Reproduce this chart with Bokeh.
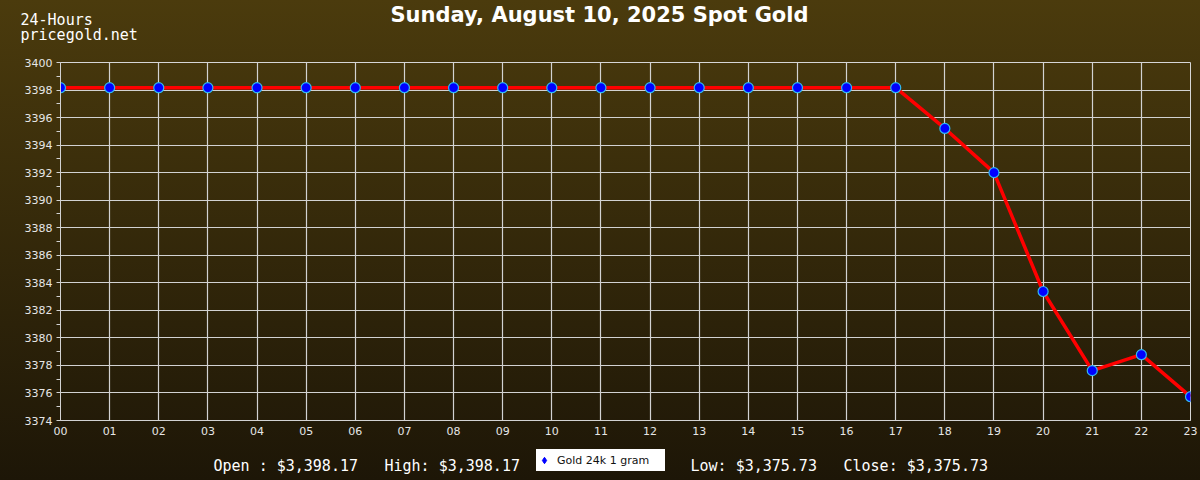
from bokeh.plotting import figure
from bokeh.layouts import column
from bokeh.models import (ColumnDataSource, Label, Legend, LegendItem,
                          FixedTicker, Range1d, Plot)
from bokeh.embed import file_html
from bokeh.resources import INLINE

# Hourly spot gold prices (USD / oz)
hours = list(range(24))
hour_labels = [f"{h:02d}" for h in hours]
prices = [3398.17] * 18 + [3395.21, 3392.00, 3383.37, 3377.62, 3378.78, 3375.73]
y_ticks = list(range(3374, 3401, 2))
y_minor = list(range(3375, 3400, 2))

title_text = "Sunday, August 10, 2025 Spot Gold"
corner_lines = ["24-Hours", "pricegold.net"]
stats = ["Open : $3,398.17", "High: $3,398.17", "Low: $3,375.73", "Close: $3,375.73"]
series_name = "Gold 24k 1 gram"

W = 1200
FRAME_L, FRAME_R = 60, 1190
TOP_H, MAIN_H, BOT_H = 54, 391, 35
PAD_TOP = 8                          # room above the plot for the top tick label
grid_col = "#d2d2d2"
tick_col = "#e6e6e6"

# text strips use the full page width when their frames can be left unaligned
FREE_STRIPS = "frame_align" in Plot.properties()
STRIP_X0, STRIP_X1 = (0, W) if FREE_STRIPS else (FRAME_L, FRAME_R)


def bare_panel(h, y_origin):
    """A text strip; its ranges are laid out in page pixels."""
    f = figure(width=W, height=h, output_backend="svg", toolbar_location=None,
               x_range=Range1d(STRIP_X0, STRIP_X1),
               y_range=Range1d(y_origin + h, y_origin),
               x_axis_location=None, y_axis_location=None,
               min_border=0)
    if FREE_STRIPS:
        f.frame_align = False
    f.grid.visible = False
    f.outline_line_color = None
    f.background_fill_color = None
    f.border_fill_color = None
    return f


# ---- header strip: title and site name
top = bare_panel(TOP_H, 0)
top.add_layout(Label(x=599, y=14, text=title_text, text_font="DejaVu Sans",
                     text_font_style="bold", text_font_size="21px",
                     text_color="white", text_align="center",
                     text_baseline="middle"))
for yy, s in zip([19, 34], corner_lines):
    top.add_layout(Label(x=20, y=yy, text=s, text_font="DejaVu Sans Mono",
                         text_font_size="15px", text_color="white",
                         text_baseline="middle"))

# ---- main chart
p = figure(width=W, height=MAIN_H, output_backend="svg", toolbar_location=None,
           x_range=Range1d(0, 23), y_range=Range1d(3374, 3400),
           min_border_left=FRAME_L, min_border_right=W - FRAME_R,
           min_border_top=PAD_TOP, min_border_bottom=MAIN_H - PAD_TOP - 358)
p.background_fill_color = None
p.border_fill_color = None
p.outline_line_color = "#d6d6d6"
p.outline_line_width = 1

p.xaxis.ticker = FixedTicker(ticks=hours)
p.xaxis.major_label_overrides = {h: lab for h, lab in zip(hours, hour_labels)}
p.yaxis.ticker = FixedTicker(ticks=y_ticks, minor_ticks=y_minor)
for ax in (p.xaxis[0], p.yaxis[0]):
    ax.axis_line_color = grid_col
    ax.major_label_text_color = tick_col
    ax.major_label_text_font = "DejaVu Sans"
    ax.major_label_text_font_size = "11px"
    ax.major_tick_line_color = grid_col
    ax.minor_tick_line_color = grid_col
    ax.major_tick_in = 0
    ax.minor_tick_in = 0
p.xaxis.major_tick_out = 0
p.xaxis.minor_tick_out = 0
p.xaxis.major_label_standoff = 6
p.yaxis.major_tick_out = 4
p.yaxis.minor_tick_out = 4
p.yaxis.major_label_standoff = 4

p.xgrid.ticker = FixedTicker(ticks=hours)
p.ygrid.ticker = FixedTicker(ticks=y_ticks)
for g in (p.xgrid[0], p.ygrid[0]):
    g.grid_line_color = grid_col
    g.grid_line_width = 1.2

src = ColumnDataSource(dict(hour=hours, price=prices))
p.line("hour", "price", source=src, line_color="#ff0000", line_width=3.5)
p.scatter("hour", "price", source=src, marker="circle", size=10,
          fill_color="#0000ff", line_color="#30b8f0", line_width=1.2)

# ---- footer strip: open/high/low/close and the series key
bot = bare_panel(BOT_H, TOP_H + MAIN_H)
for xpos, s in zip([213, 384, 690, 843], stats):
    bot.add_layout(Label(x=xpos, y=465, text=s,
                         text_font="DejaVu Sans Mono", text_font_size="15px",
                         text_color="white", text_baseline="middle"))

# key glyph for the legend only (a single undefined point, never drawn)
key = bot.scatter(x=[float("nan")], y=[float("nan")], marker="diamond", size=6,
                  fill_color="#0000ff", line_color="#0000ff")
legend = Legend(items=[LegendItem(label=series_name, renderers=[key])],
                location=(536 - STRIP_X0, 9), orientation="horizontal",
                background_fill_color="white", background_fill_alpha=1,
                border_line_color=None, label_text_font="DejaVu Sans",
                label_text_font_size="11px", label_text_color="#111111",
                glyph_width=16, glyph_height=22, label_standoff=5,
                label_height=22, label_width=108,
                padding=0, margin=0, spacing=0)
bot.add_layout(legend, "center")

page = column(top, p, bot, spacing=0)
page.styles = {"background": "linear-gradient(to bottom, #4b3b0d 0%, #1d1607 100%)"}

open("out.html", "w").write(file_html(page, INLINE))
